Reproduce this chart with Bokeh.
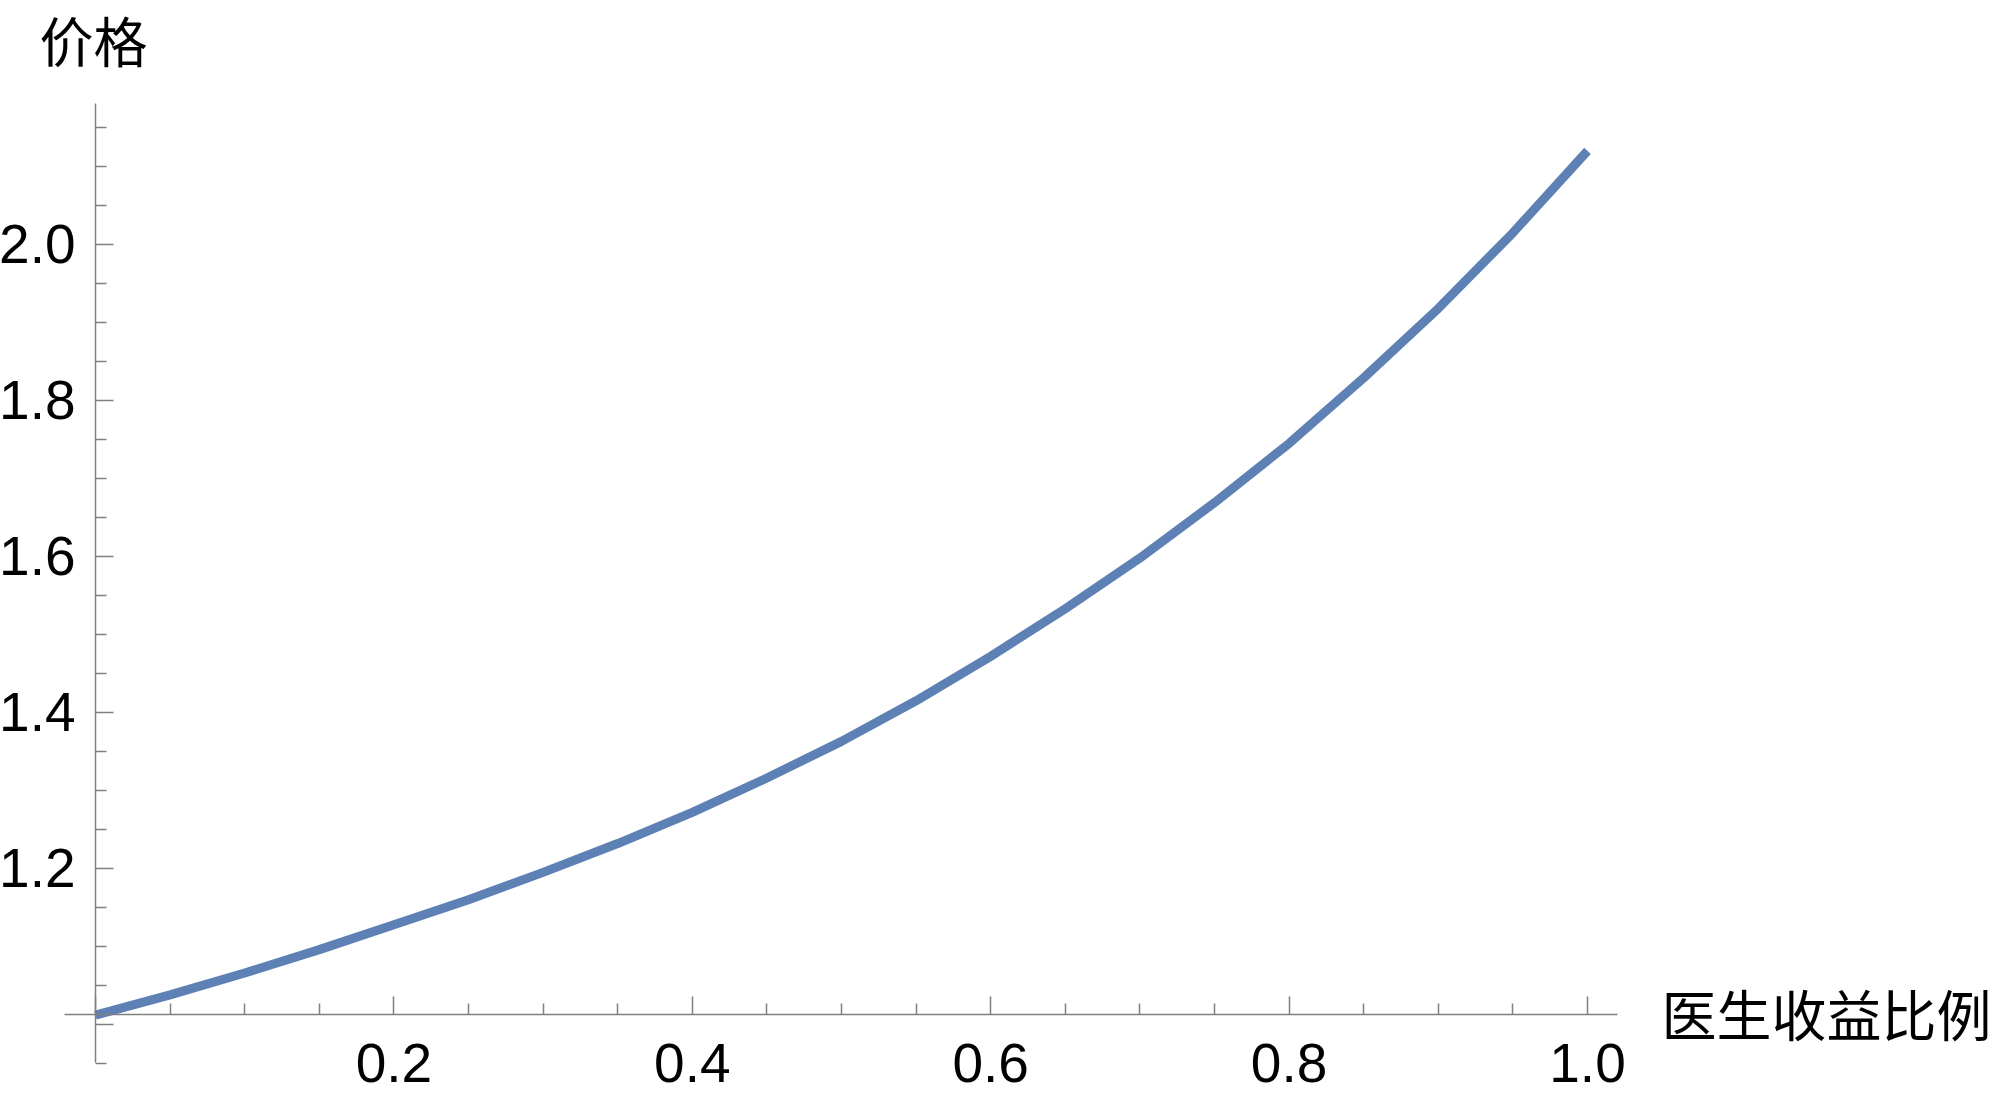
from bokeh.plotting import figure
from bokeh.models import Range1d, FixedTicker, Label
from bokeh.embed import file_html
from bokeh.resources import INLINE

# data
ratio = [0.0, 0.05, 0.1, 0.15, 0.2, 0.25, 0.3, 0.35, 0.4, 0.45, 0.5,
         0.55, 0.6, 0.65, 0.7, 0.75, 0.8, 0.85, 0.9, 0.95, 1.0]
price = [1.012, 1.038, 1.066, 1.096, 1.128, 1.160, 1.195, 1.232, 1.272, 1.316, 1.363,
         1.415, 1.472, 1.533, 1.598, 1.669, 1.745, 1.829, 1.918, 2.015, 2.12]

x_major = [0.0, 0.2, 0.4, 0.6, 0.8, 1.0]
x_minor = [0.05, 0.1, 0.15, 0.25, 0.3, 0.35, 0.45, 0.5, 0.55, 0.65, 0.7, 0.75,
           0.85, 0.9, 0.95]
y_major = [1.0, 1.2, 1.4, 1.6, 1.8, 2.0]
y_minor = [0.95, 1.05, 1.1, 1.15, 1.25, 1.3, 1.35, 1.45, 1.5, 1.55, 1.65, 1.7, 1.75,
           1.85, 1.9, 1.95, 2.05, 2.1, 2.15]
x_labels = {0.0: "", 0.2: "0.2", 0.4: "0.4", 0.6: "0.6", 0.8: "0.8", 1.0: "1.0"}
y_labels = {1.0: "", 1.2: "1.2", 1.4: "1.4", 1.6: "1.6", 1.8: "1.8", 2.0: "2.0"}
x_title = "医生收益比例"
y_title = "价格"

AX = "#808080"
NUM_FONT = "Liberation Sans"
CJK_FONT = "Noto Sans CJK SC"

p = figure(width=2000, height=1106,
           x_range=Range1d(-0.06367, 1.27681), y_range=Range1d(0.89487, 2.31282),
           output_backend="svg", toolbar_location=None,
           min_border_left=0, min_border_right=0,
           min_border_top=0, min_border_bottom=0)
p.outline_line_color = None
p.xgrid.visible = False
p.ygrid.visible = False
p.background_fill_color = "white"
p.border_fill_color = "white"

p.line(ratio, price, line_color="#5E81B5", line_width=9)

xa = p.xaxis[0]
xa.fixed_location = 1.013
xa.bounds = (-0.0208, 1.0201)
xa.ticker = FixedTicker(ticks=x_major, minor_ticks=x_minor)
xa.major_label_overrides = x_labels
ya = p.yaxis[0]
ya.fixed_location = 0.0
ya.bounds = (0.951, 2.181)
ya.ticker = FixedTicker(ticks=y_major, minor_ticks=y_minor)
ya.major_label_overrides = y_labels

for ax in (xa, ya):
    ax.axis_line_color = AX
    ax.axis_line_width = 1.5
    ax.major_tick_line_color = AX
    ax.minor_tick_line_color = AX
    ax.major_tick_line_width = 1.5
    ax.minor_tick_line_width = 1.5
    ax.major_tick_in = 18
    ax.major_tick_out = 0
    ax.minor_tick_in = 11
    ax.minor_tick_out = 0
    ax.major_label_text_font = NUM_FONT
    ax.major_label_text_font_size = "55px"
    ax.major_label_text_color = "black"
xa.major_label_standoff = 30
ya.major_label_standoff = 20

p.add_layout(Label(x=1.0496, y=1.0165, text=x_title, text_font=CJK_FONT,
                   text_font_size="55px", text_color="black",
                   text_align="left", text_baseline="middle"))
p.add_layout(Label(x=-0.0375, y=2.2628, text=y_title, text_font=CJK_FONT,
                   text_font_size="54px", text_color="black",
                   text_align="left", text_baseline="alphabetic"))

open("out.html", "w").write(file_html(p, INLINE))
